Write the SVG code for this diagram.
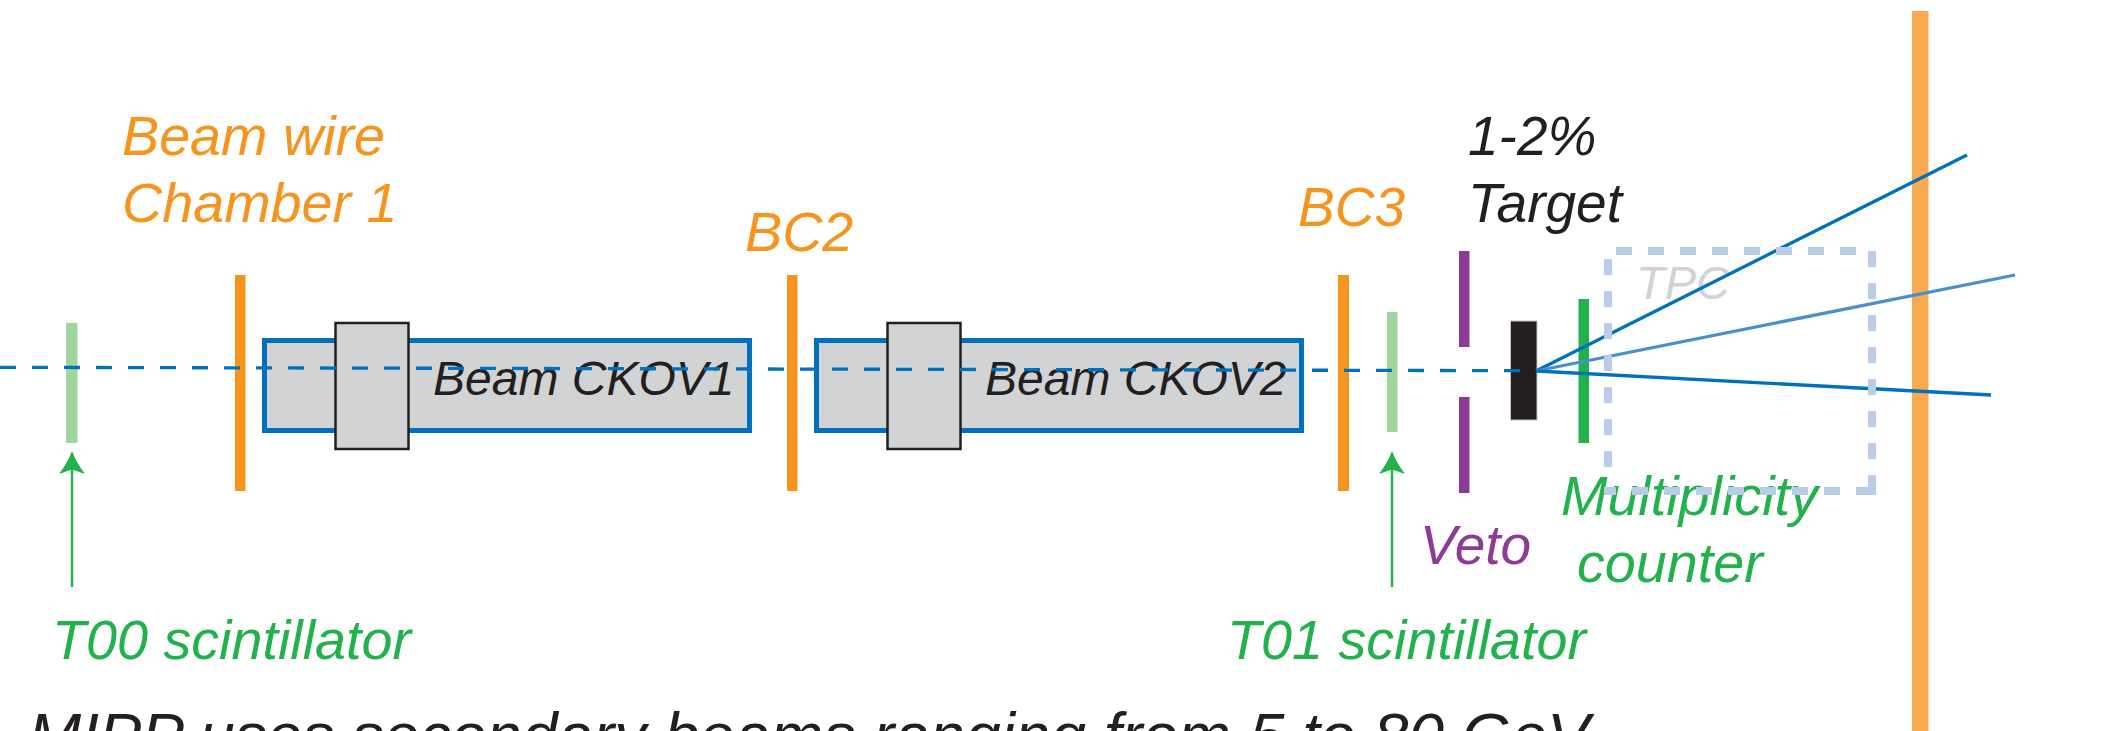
<svg xmlns="http://www.w3.org/2000/svg" width="2105" height="731" viewBox="0 0 2105 731">
<style>
text{font-family:"Liberation Sans",Arial,sans-serif;font-style:italic;font-size:55.700px}
.or{fill:#f7941e}.gr{fill:#22b24c}.lg{fill:#a0d59f}.pu{fill:#8e3b97}.bk{fill:#231f20}
.box{fill:#d1d3d4;stroke:#0071bc;stroke-width:5}
.cap{fill:#d1d3d4;stroke:#231f20;stroke-width:2.5}
.lbl{font-size:48px}
.sm{font-size:55px}
.trk{fill:none;stroke:#0071bc;stroke-width:3.300}
.tpc{fill:none;stroke:#b9cde9;stroke-width:8;stroke-dasharray:16 16}
.arr{fill:none;stroke:#22b24c;stroke-width:2.5}
</style>
<defs><path id="head" d="M0,0Q4.500,12 13,23L0,18.500L-13,23Q-4.500,12 0,0Z" fill="#22b24c"/></defs>
<rect id="wall" x="1912" y="11" width="16.5" height="720" fill="#f9a94f"/>
<text id="tpc-label" style="font-size:47px;fill:#d1d3d4" x="1636" y="299">TPC</text>
<g id="t00"><rect class="lg" x="66" y="323" width="11.5" height="120"/></g>
<g id="bc1"><rect class="or" x="235" y="275" width="10.5" height="216"/></g>
<g id="ckov1"><rect class="box" x="264.500" y="340.500" width="485" height="90"/><rect class="cap" x="335.500" y="323" width="73" height="126"/><text class="bk lbl" x="433" y="395">Beam CKOV1</text></g>
<g id="bc2"><rect class="or" x="787" y="275" width="10.500" height="216"/></g>
<g id="ckov2"><rect class="box" x="816.500" y="340.500" width="485" height="90"/><rect class="cap" x="887.500" y="323" width="73" height="126"/><text class="bk lbl" x="985" y="395">Beam CKOV2</text></g>
<g id="bc3"><rect class="or" x="1338" y="275" width="11" height="216"/></g>
<g id="t01"><rect class="lg" x="1387" y="312" width="10.500" height="120"/></g>
<g id="veto"><rect class="pu" x="1459" y="251" width="10.500" height="96"/><rect class="pu" x="1459" y="397" width="10.500" height="96"/></g>
<g id="target"><rect class="bk" x="1510.500" y="321" width="26.500" height="99" stroke="#c4c2c2" stroke-width="1"/></g>
<g id="mult"><rect class="gr" x="1578.500" y="299" width="10.500" height="144"/></g>
<g id="connectors">
<path d="M0,367.300L1520,370.700" fill="none" stroke="#0071bc" stroke-width="3.300" stroke-dasharray="16 16"/>
<path class="trk" d="M1536,371L1967,155"/>
<path d="M1536,371L2015,275" fill="none" stroke="#4a90d0" stroke-width="3.300"/>
<path class="trk" d="M1536,371L1991,395"/>
<path class="arr" d="M72,587V465"/><use href="#head" x="72" y="451"/>
<path class="arr" d="M1392,587V465"/><use href="#head" x="1392" y="451"/>
</g>
<g id="labels">
<text class="or" x="122" y="155">Beam wire</text>
<text class="or" x="122" y="221.500">Chamber 1</text>
<text class="or" x="745" y="251">BC2</text>
<text class="or sm" x="1298" y="226">BC3</text>
<text class="bk sm" x="1468" y="155">1-2%</text>
<text class="bk sm" x="1468" y="221.500">Target</text>
<text class="gr" x="1561" y="515">Multiplicity</text>
<text class="gr" x="1577" y="582">counter</text>
<text class="pu sm" x="1420" y="564">Veto</text>
<text class="gr" x="52" y="659">T00 scintillator</text>
<text class="gr" x="1227" y="659">T01 scintillator</text>
<text class="bk" style="font-size:63.800px" x="28" y="757">MIPP uses secondary beams ranging from 5 to 80 GeV</text>
</g>
<g id="tpc"><path class="tpc" d="M1616,251H1856"/><path class="tpc" d="M1872,251V491"/><path d="M1872,475V495" fill="none" stroke="#b9cde9" stroke-width="8"/><path class="tpc" d="M1872,491H1604"/><path class="tpc" d="M1608,259V467"/></g>
</svg>
